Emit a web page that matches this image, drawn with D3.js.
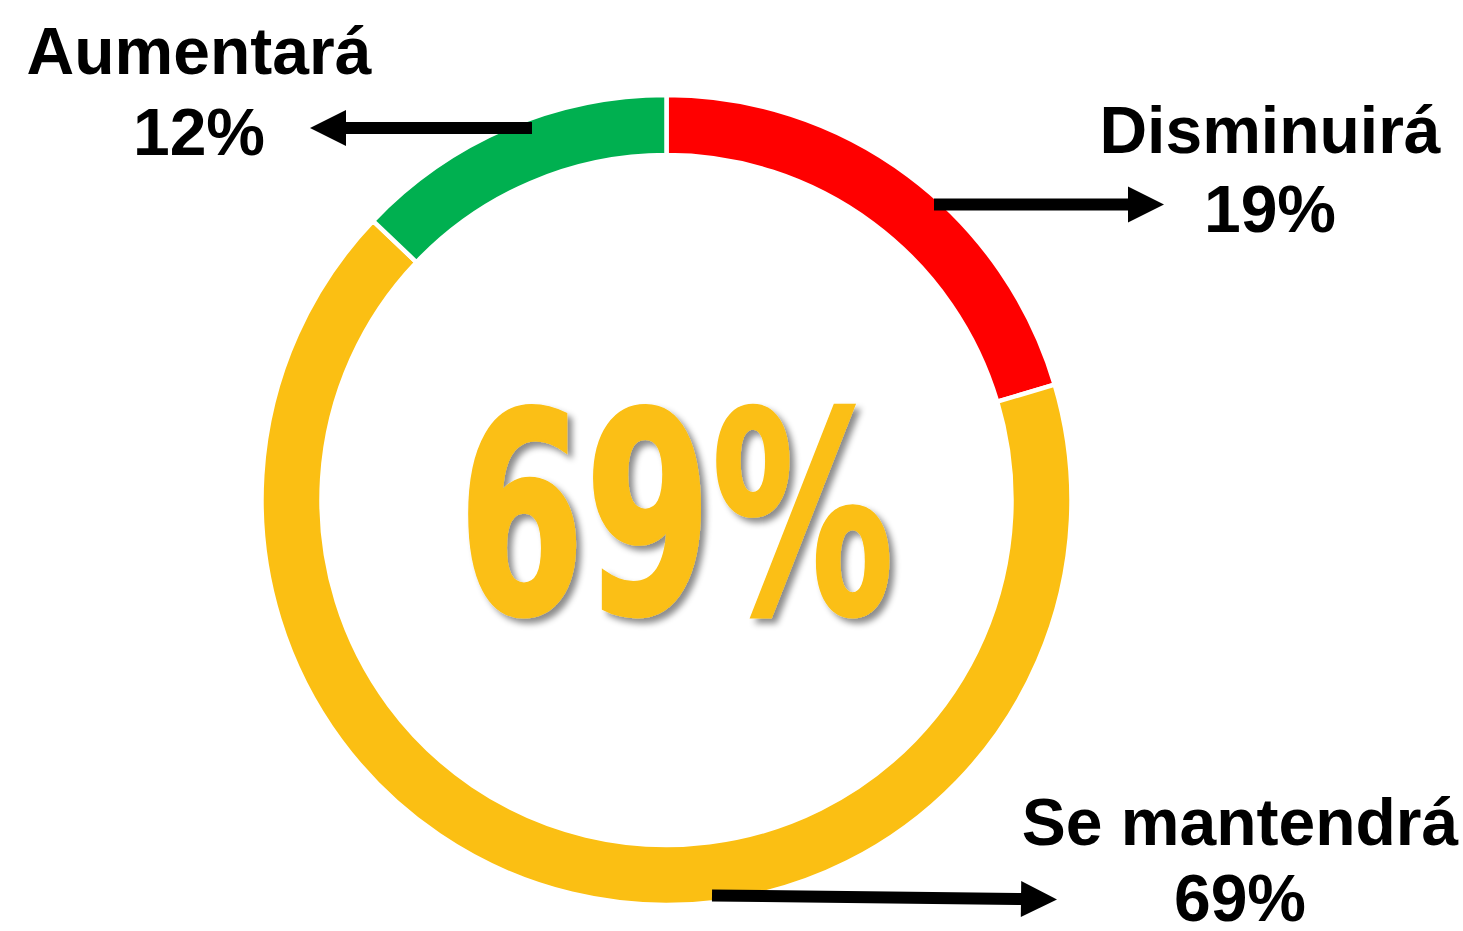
<!DOCTYPE html>
<html>
<head>
<meta charset="utf-8">
<script src="https://cdn.jsdelivr.net/npm/d3@7"></script>
<style>
  html, body { margin: 0; padding: 0; background: #ffffff; }
  svg { display: block; }
</style>
</head>
<body>
<svg id="chart" width="1463" height="931"></svg>
<script>
// ---- data ----
const categories  = ["Disminuirá", "Se mantendrá", "Aumentará"];
const labelValues = [19, 69, 12];            // percentages printed in the labels
const ringShares  = [20.4, 66.7, 12.9];      // arc spans as drawn on the ring
const colors      = ["#FF0000", "#FBBF13", "#00B050"];
const centerValue = 69;

// ---- layout ----
const W = 1463, H = 931;
const cx = 666.5, cy = 500;
const rOuter = 405, rInner = 345;

const svg = d3.select("#chart");

const defs = svg.append("defs");
const f = defs.append("filter").attr("id", "shadow")
  .attr("x", "-10%").attr("y", "-10%").attr("width", "130%").attr("height", "130%");
f.append("feDropShadow").attr("dx", 5).attr("dy", 5).attr("stdDeviation", 3)
  .attr("flood-color", "#000").attr("flood-opacity", 0.45);

const data = categories.map((c, i) => ({ cat: c, share: ringShares[i], label: labelValues[i], color: colors[i] }));

const pie = d3.pie().sort(null).value(d => d.share).startAngle(0).endAngle(2 * Math.PI);
const arc = d3.arc().innerRadius(rInner).outerRadius(rOuter);

const g = svg.append("g").attr("transform", `translate(${cx},${cy})`);
g.selectAll("path.slice")
  .data(pie(data))
  .join("path")
  .attr("class", "slice")
  .attr("d", arc)
  .attr("fill", d => d.data.color)
  .attr("stroke", "#ffffff")
  .attr("stroke-width", 4.5)
  .attr("stroke-linejoin", "miter");

// ---- center value ----
svg.append("text")
  .attr("x", 458)
  .attr("y", 613)
  .attr("textLength", 436)
  .attr("lengthAdjust", "spacingAndGlyphs")
  .attr("font-family", "'Liberation Sans Narrow', 'DejaVu Sans Condensed', 'Liberation Sans', sans-serif")
  .attr("font-weight", "bold")
  .attr("font-size", 280)
  .attr("fill", colors[1])
  .attr("stroke", colors[1])
  .attr("stroke-width", 3)
  .attr("stroke-linejoin", "miter")
  .attr("filter", "url(#shadow)")
  .text(centerValue + "%");

// ---- labels & arrows ----
const labelPos = [
  { x: 1270, y1: 153, y2: 232 },
  { x: 1240, y1: 845, y2: 921 },
  { x: 199,  y1: 74,  y2: 155 }
];
const arrows = [
  { x0: 934, y0: 204.5, x1: 1164, y1: 204.5 },
  { x0: 712, y0: 895.5, x1: 1057, y1: 899.5 },
  { x0: 532, y0: 128,   x1: 310,  y1: 128 }
];

data.forEach((d, i) => {
  const p = labelPos[i];
  const t = svg.append("text")
    .attr("text-anchor", "middle")
    .attr("font-family", "'Liberation Sans', Arial, sans-serif")
    .attr("font-weight", "bold")
    .attr("font-size", 66)
    .attr("fill", "#000");
  t.append("tspan").attr("x", p.x).attr("y", p.y1).text(d.cat);
  t.append("tspan").attr("x", p.x).attr("y", p.y2).text(d.label + "%");

  const a = arrows[i];
  const dx = a.x1 - a.x0, dy = a.y1 - a.y0;
  const len = Math.hypot(dx, dy);
  const ux = dx / len, uy = dy / len;
  const headLen = 36, headHalf = 18;
  const bx = a.x1 - ux * headLen, by = a.y1 - uy * headLen;
  svg.append("line")
    .attr("x1", a.x0).attr("y1", a.y0)
    .attr("x2", bx + ux * 1).attr("y2", by + uy * 1)
    .attr("stroke", "#000").attr("stroke-width", 12);
  svg.append("path")
    .attr("d", d3.line()([
      [a.x1, a.y1],
      [bx - uy * headHalf, by + ux * headHalf],
      [bx + uy * headHalf, by - ux * headHalf]
    ]) + "Z")
    .attr("fill", "#000");
});
</script>
</body>
</html>
